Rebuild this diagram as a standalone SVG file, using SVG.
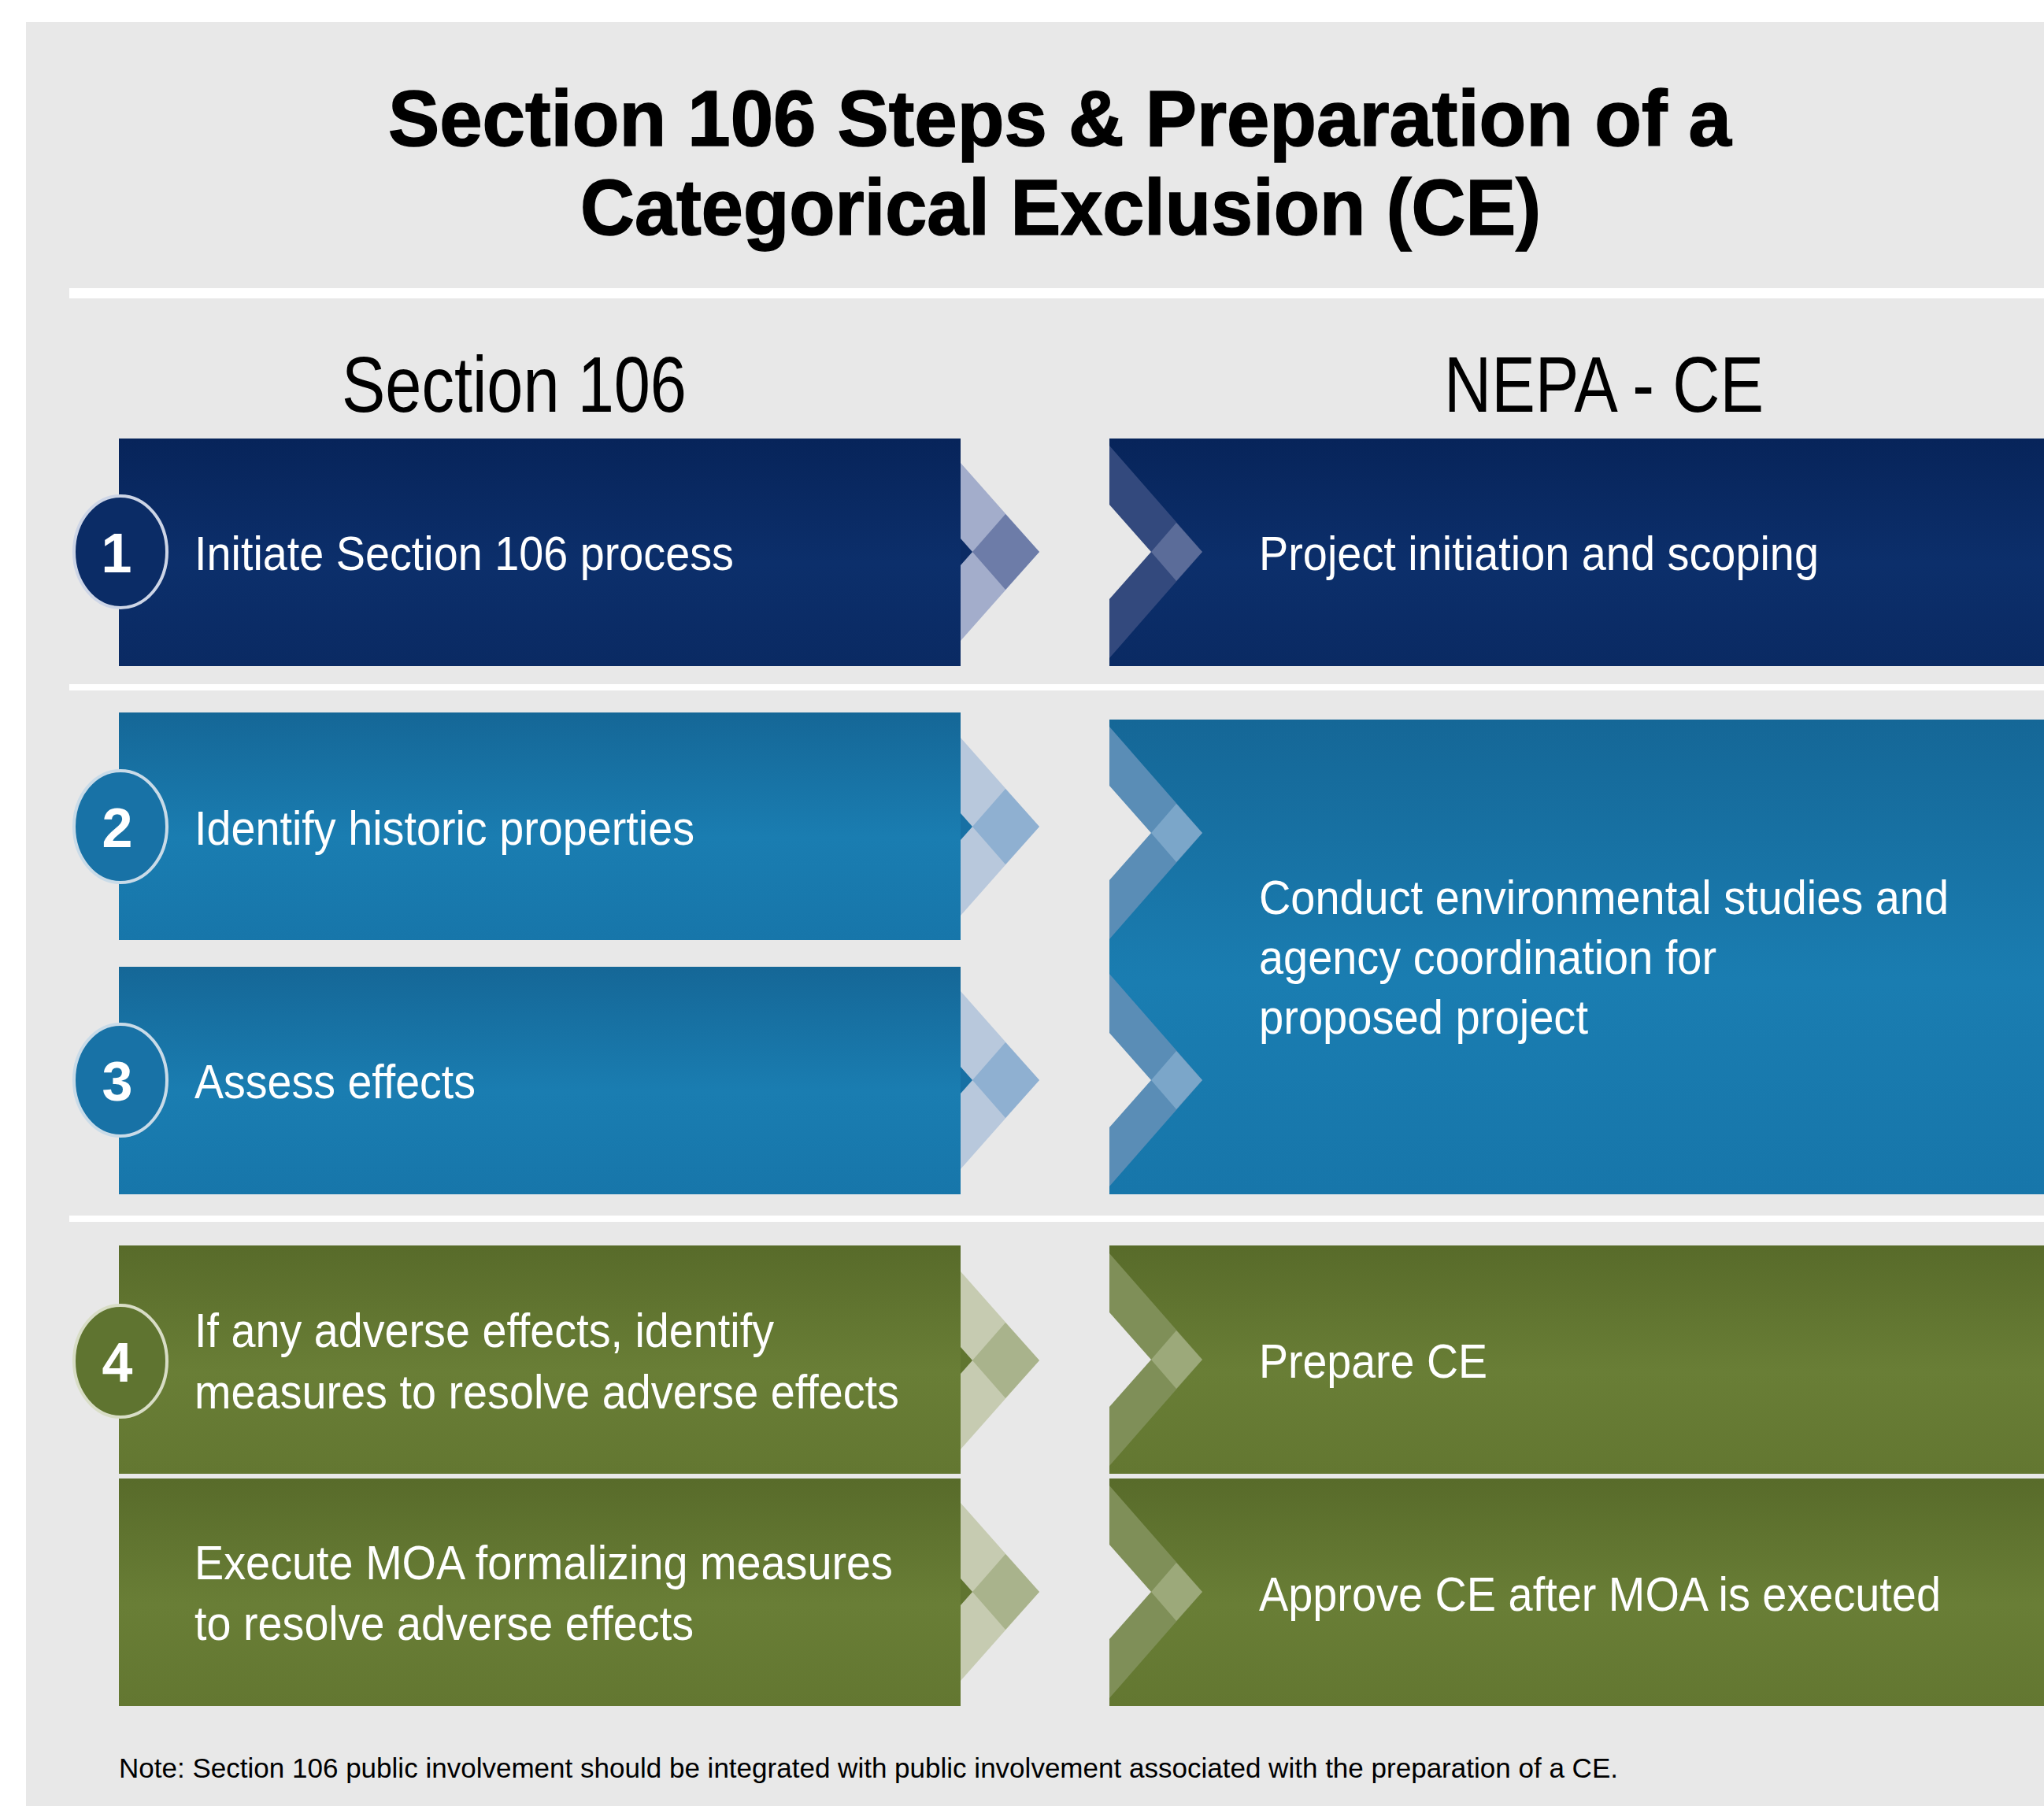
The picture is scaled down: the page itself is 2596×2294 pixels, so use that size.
<svg xmlns="http://www.w3.org/2000/svg" width="2596" height="2294" viewBox="0 0 2596 2294">
<defs>
<style>
text{font-family:"Liberation Sans",Arial,Helvetica,sans-serif;}
.title{font-size:100px;font-weight:700;fill:#000;stroke:#000;stroke-width:1.5px;}
.head{font-size:100px;fill:#000;}
.body{font-size:62px;fill:#ffffff;}
.num{font-size:70px;font-weight:700;fill:#ffffff;text-anchor:middle;}
.note{font-size:35px;fill:#000;}
.sep{fill:#ffffff;}
.ring-n{fill:#0b2c66;stroke:#cdd5e6;stroke-width:4;}
.ring-b{fill:#1872a6;stroke:#c9dbe8;stroke-width:4;}
.ring-g{fill:#5f7430;stroke:#d8ddc6;stroke-width:4;}
.ln-lt{fill:#a3adcb;} .ln-dm{fill:#6d7ca8;} .ln-nt{fill:#0b2b64;}
.lb-lt{fill:#b8c8dc;} .lb-dm{fill:#8fb0d1;} .lb-nt{fill:#1770a4;}
.lg-lt{fill:#c6cbb1;} .lg-dm{fill:#a9b38c;} .lg-nt{fill:#607530;}
.rn-bd{fill:#33497d;} .rn-dm{fill:#5b6c99;}
.rb-bd{fill:#5a8db6;} .rb-dm{fill:#7ba6c9;}
.rg-bd{fill:#7f8f58;} .rg-dm{fill:#9ca97a;}
.notch{fill:#e8e8e8;}
</style>
<linearGradient id="gNavy" x1="0" y1="0" x2="0" y2="1">
<stop offset="0" stop-color="#07245a"/><stop offset="0.55" stop-color="#0c2f6b"/><stop offset="1" stop-color="#0a2a63"/>
</linearGradient>
<linearGradient id="gBlue" x1="0" y1="0" x2="0" y2="1">
<stop offset="0" stop-color="#156797"/><stop offset="0.55" stop-color="#1a7db1"/><stop offset="1" stop-color="#1776aa"/>
</linearGradient>
<linearGradient id="gGreen" x1="0" y1="0" x2="0" y2="1">
<stop offset="0" stop-color="#586b2a"/><stop offset="0.55" stop-color="#697e36"/><stop offset="1" stop-color="#637731"/>
</linearGradient>
</defs>

<rect x="0" y="0" width="2596" height="2294" fill="#ffffff"/>
<rect x="33" y="28" width="2563" height="2266" fill="#e8e8e8"/>

<g id="title">
<text class="title" x="493" y="185" textLength="1706" lengthAdjust="spacingAndGlyphs">Section 106 Steps &amp; Preparation of a</text>
<text class="title" x="737" y="298" textLength="1220" lengthAdjust="spacingAndGlyphs">Categorical Exclusion (CE)</text>
</g>

<rect class="sep" x="88" y="366" width="2508" height="13"/>
<rect class="sep" x="88" y="869" width="2508" height="8"/>
<rect class="sep" x="88" y="1544" width="2508" height="8"/>

<g id="headers">
<text class="head" x="434" y="523" textLength="438" lengthAdjust="spacingAndGlyphs">Section 106</text>
<text class="head" x="1834" y="523" textLength="406" lengthAdjust="spacingAndGlyphs">NEPA - CE</text>
</g>

<!-- Section 106 column -->
<g id="s106-step1">
<rect x="151" y="557" width="1069" height="289" fill="url(#gNavy)"/>
<ellipse class="ring-n" cx="153" cy="701" rx="59" ry="71"/>
<text class="num" x="148" y="727">1</text>
<text class="body" x="247" y="724" textLength="685" lengthAdjust="spacingAndGlyphs">Initiate Section 106 process</text>
</g>

<g id="s106-step2">
<rect x="151" y="905" width="1069" height="289" fill="url(#gBlue)"/>
<ellipse class="ring-b" cx="153" cy="1050" rx="59" ry="71"/>
<text class="num" x="149" y="1076">2</text>
<text class="body" x="247" y="1073" textLength="635" lengthAdjust="spacingAndGlyphs">Identify historic properties</text>
</g>

<g id="s106-step3">
<rect x="151" y="1228" width="1069" height="289" fill="url(#gBlue)"/>
<ellipse class="ring-b" cx="153" cy="1372" rx="59" ry="71"/>
<text class="num" x="149" y="1398">3</text>
<text class="body" x="247" y="1395" textLength="357" lengthAdjust="spacingAndGlyphs">Assess effects</text>
</g>

<g id="s106-step4">
<rect x="151" y="1582" width="1069" height="290" fill="url(#gGreen)"/>
<ellipse class="ring-g" cx="153" cy="1729" rx="59" ry="71"/>
<text class="num" x="149" y="1755">4</text>
<text class="body" x="247" y="1711" textLength="736" lengthAdjust="spacingAndGlyphs">If any adverse effects, identify</text>
<text class="body" x="247" y="1789" textLength="895" lengthAdjust="spacingAndGlyphs">measures to resolve adverse effects</text>
</g>

<g id="s106-step5">
<rect x="151" y="1878" width="1069" height="289" fill="url(#gGreen)"/>
<text class="body" x="247" y="2006" textLength="887" lengthAdjust="spacingAndGlyphs">Execute MOA formalizing measures</text>
<text class="body" x="247" y="2083" textLength="634" lengthAdjust="spacingAndGlyphs">to resolve adverse effects</text>
</g>

<!-- NEPA - CE column -->
<g id="nepa-step1">
<rect x="1409" y="557" width="1187" height="289" fill="url(#gNavy)"/>
<text class="body" x="1599" y="724" textLength="711" lengthAdjust="spacingAndGlyphs">Project initiation and scoping</text>
</g>

<g id="nepa-step2">
<rect x="1409" y="914" width="1187" height="603" fill="url(#gBlue)"/>
<text class="body" x="1599" y="1161" textLength="876" lengthAdjust="spacingAndGlyphs">Conduct environmental studies and</text>
<text class="body" x="1599" y="1237" textLength="581" lengthAdjust="spacingAndGlyphs">agency coordination for</text>
<text class="body" x="1599" y="1313" textLength="418" lengthAdjust="spacingAndGlyphs">proposed project</text>
</g>

<g id="nepa-step3">
<rect x="1409" y="1582" width="1187" height="290" fill="url(#gGreen)"/>
<text class="body" x="1599" y="1750" textLength="290" lengthAdjust="spacingAndGlyphs">Prepare CE</text>
</g>

<g id="nepa-step4">
<rect x="1409" y="1878" width="1187" height="289" fill="url(#gGreen)"/>
<text class="body" x="1599" y="2046" textLength="866" lengthAdjust="spacingAndGlyphs">Approve CE after MOA is executed</text>
</g>

<!-- Connectors: chevrons -->
<g id="connectors">
<g transform="translate(1220,701)">
<polygon class="ln-lt" points="0,-113 100,0 0,113"/>
<polygon class="ln-dm" points="15,0 57,-48 100,0 57,48"/>
<polygon class="ln-nt" points="0,-17 15,0 0,17"/>
</g>
<g transform="translate(1220,1050)">
<polygon class="lb-lt" points="0,-113 100,0 0,113"/>
<polygon class="lb-dm" points="15,0 57,-48 100,0 57,48"/>
<polygon class="lb-nt" points="0,-17 15,0 0,17"/>
</g>
<g transform="translate(1220,1372)">
<polygon class="lb-lt" points="0,-113 100,0 0,113"/>
<polygon class="lb-dm" points="15,0 57,-48 100,0 57,48"/>
<polygon class="lb-nt" points="0,-17 15,0 0,17"/>
</g>
<g transform="translate(1220,1728)">
<polygon class="lg-lt" points="0,-113 100,0 0,113"/>
<polygon class="lg-dm" points="15,0 57,-48 100,0 57,48"/>
<polygon class="lg-nt" points="0,-17 15,0 0,17"/>
</g>
<g transform="translate(1220,2022)">
<polygon class="lg-lt" points="0,-113 100,0 0,113"/>
<polygon class="lg-dm" points="15,0 57,-48 100,0 57,48"/>
<polygon class="lg-nt" points="0,-17 15,0 0,17"/>
</g>

<g transform="translate(1409,701)">
<polygon class="rn-bd" points="0,-135 118,0 0,135"/>
<polygon class="notch" points="0,-60 53,0 0,60"/>
<polygon class="rn-dm" points="53,0 85,-37 118,0 85,37"/>
</g>
<g transform="translate(1409,1058)">
<polygon class="rb-bd" points="0,-135 118,0 0,135"/>
<polygon class="notch" points="0,-60 53,0 0,60"/>
<polygon class="rb-dm" points="53,0 85,-37 118,0 85,37"/>
</g>
<g transform="translate(1409,1372)">
<polygon class="rb-bd" points="0,-135 118,0 0,135"/>
<polygon class="notch" points="0,-60 53,0 0,60"/>
<polygon class="rb-dm" points="53,0 85,-37 118,0 85,37"/>
</g>
<g transform="translate(1409,1727)">
<polygon class="rg-bd" points="0,-135 118,0 0,135"/>
<polygon class="notch" points="0,-60 53,0 0,60"/>
<polygon class="rg-dm" points="53,0 85,-37 118,0 85,37"/>
</g>
<g transform="translate(1409,2022)">
<polygon class="rg-bd" points="0,-135 118,0 0,135"/>
<polygon class="notch" points="0,-60 53,0 0,60"/>
<polygon class="rg-dm" points="53,0 85,-37 118,0 85,37"/>
</g>
</g>

<g id="note">
<text class="note" x="151" y="2258" textLength="1904" lengthAdjust="spacingAndGlyphs">Note: Section 106 public involvement should be integrated with public involvement associated with the preparation of a CE.</text>
</g>
</svg>
